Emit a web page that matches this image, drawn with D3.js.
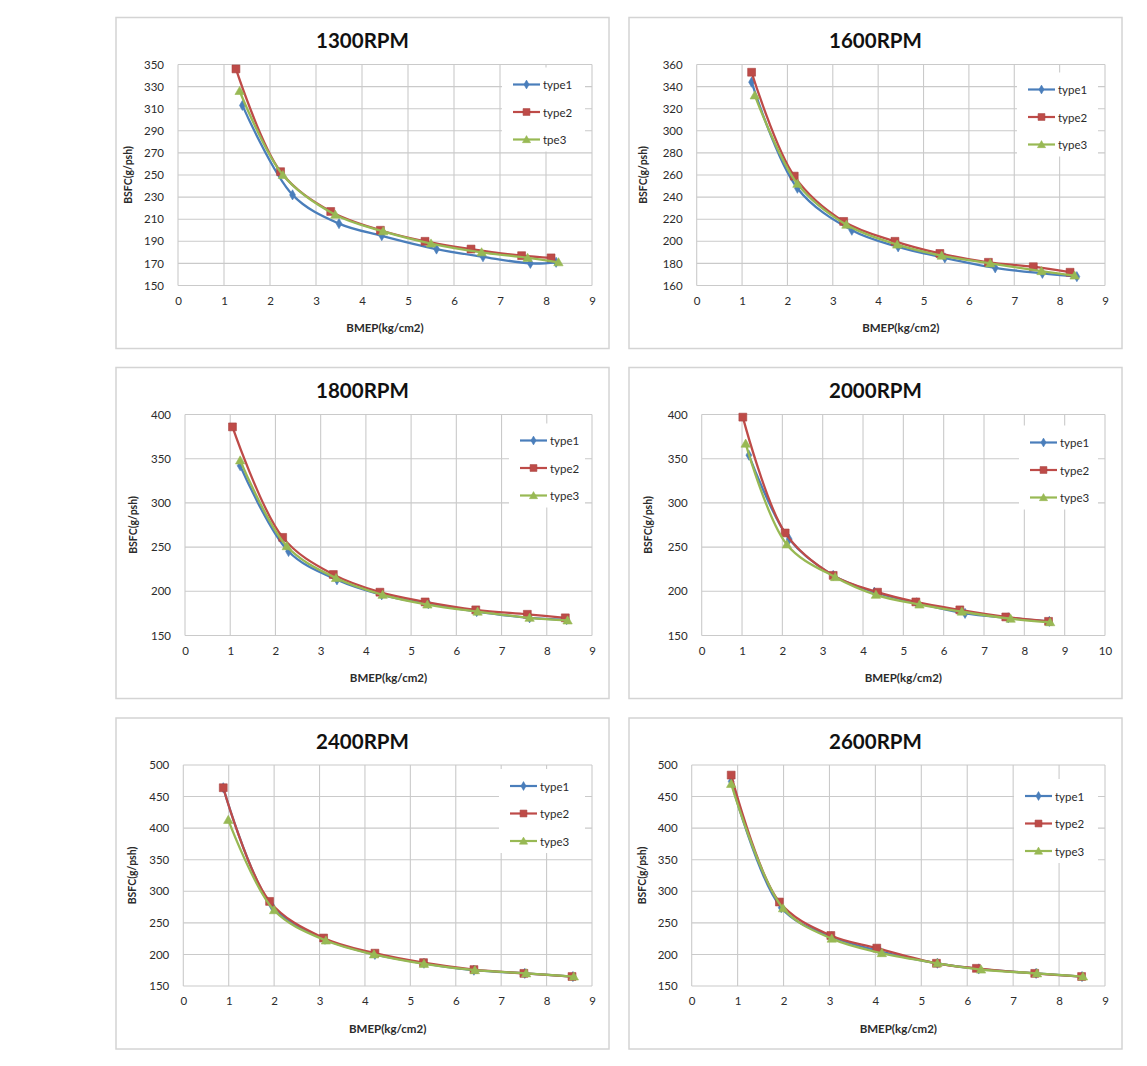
<!DOCTYPE html>
<html>
<head>
<meta charset="utf-8">
<script src="https://cdn.jsdelivr.net/npm/d3@7"></script>
<style>
  html, body { margin: 0; padding: 0; background: #ffffff; }
  svg { display: block; }
</style>
</head>
<body>
<svg id="chart" width="1147" height="1066"></svg>
<script>
// ---------- DATA ----------
const panelTitles = ["1300RPM", "1600RPM", "1800RPM", "2000RPM", "2400RPM", "2600RPM"];
const seriesNames = ["type1", "type2", "type3"];
const legend1300 = ["type1", "type2", "tpe3"];

const xTicks9 = [0, 1, 2, 3, 4, 5, 6, 7, 8, 9];
const xTicks10 = [0, 1, 2, 3, 4, 5, 6, 7, 8, 9, 10];
const yTicks1300 = [150, 170, 190, 210, 230, 250, 270, 290, 310, 330, 350];
const yTicks1600 = [160, 180, 200, 220, 240, 260, 280, 300, 320, 340, 360];
const yTicks1800 = [150, 200, 250, 300, 350, 400];
const yTicks2000 = [150, 200, 250, 300, 350, 400];
const yTicks2400 = [150, 200, 250, 300, 350, 400, 450, 500];
const yTicks2600 = [150, 200, 250, 300, 350, 400, 450, 500];

// [BMEP, BSFC]
const t1_1300 = [[1.40,313],[2.49,232],[3.50,206],[4.43,195],[5.62,183],[6.63,176],[7.66,170],[8.22,171]];
const t2_1300 = [[1.26,346],[2.23,253],[3.32,217],[4.40,200],[5.37,190],[6.37,183],[7.47,177],[8.11,175]];
const t3_1300 = [[1.34,326],[2.28,250],[3.42,214],[4.46,199],[5.50,188],[6.60,180],[7.60,175],[8.27,171]];

const t1_1600 = [[1.21,344],[2.22,248],[3.42,210],[4.44,195],[5.47,185],[6.58,176],[7.62,171],[8.38,168]];
const t2_1600 = [[1.21,353],[2.15,259],[3.24,218],[4.37,200],[5.36,189],[6.43,181],[7.42,177],[8.23,172]];
const t3_1600 = [[1.28,332],[2.22,252],[3.30,215],[4.42,197],[5.40,187],[6.47,180],[7.60,173],[8.33,169]];

const t1_1800 = [[1.22,342],[2.29,245],[3.36,213],[4.35,196],[5.38,186],[6.45,177],[7.62,170],[8.44,168]];
const t2_1800 = [[1.05,386],[2.16,261],[3.28,219],[4.31,199],[5.31,188],[6.43,179],[7.57,174],[8.41,170]];
const t3_1800 = [[1.22,348],[2.25,251],[3.34,215],[4.37,196],[5.36,185],[6.47,177],[7.62,170],[8.46,167]];

const t1_2000 = [[1.17,354],[2.17,259],[3.26,218],[4.28,199],[5.33,187],[6.53,175],[7.60,170],[8.62,166]];
const t2_2000 = [[1.02,397],[2.07,266],[3.26,218],[4.36,199],[5.31,188],[6.40,179],[7.54,171],[8.60,166]];
const t3_2000 = [[1.09,367],[2.11,253],[3.31,216],[4.32,196],[5.40,185],[6.45,177],[7.66,169],[8.64,165]];

const t1_2400 = [[0.88,464],[1.95,277],[3.12,224],[4.22,200],[5.30,186],[6.40,175],[7.52,170],[8.58,165]];
const t2_2400 = [[0.88,464],[1.90,284],[3.09,226],[4.22,202],[5.29,187],[6.40,176],[7.50,170],[8.56,165]];
const t3_2400 = [[0.99,413],[2.00,270],[3.14,222],[4.20,200],[5.30,185],[6.42,175],[7.55,170],[8.60,165]];

const t1_2600 = [[0.86,474],[1.95,274],[3.05,228],[4.10,205],[5.35,186],[6.25,177],[7.50,170],[8.50,165]];
const t2_2600 = [[0.86,484],[1.91,283],[3.03,230],[4.03,210],[5.33,186],[6.20,178],[7.47,170],[8.49,165]];
const t3_2600 = [[0.86,470],[1.99,273],[3.05,225],[4.14,202],[5.35,186],[6.30,176],[7.52,170],[8.52,165]];

const xAxisTitle = "BMEP(kg/cm2)";
const yAxisTitle = "BSFC(g/psh)";

// ---------- build panel table from the arrays ----------
const panels = [
  { title: panelTitles[0], series: [t1_1300, t2_1300, t3_1300], legend: legend1300, xTicks: xTicks9, yTicks: yTicks1300 },
  { title: panelTitles[1], series: [t1_1600, t2_1600, t3_1600], legend: seriesNames, xTicks: xTicks9, yTicks: yTicks1600 },
  { title: panelTitles[2], series: [t1_1800, t2_1800, t3_1800], legend: seriesNames, xTicks: xTicks9, yTicks: yTicks1800 },
  { title: panelTitles[3], series: [t1_2000, t2_2000, t3_2000], legend: seriesNames, xTicks: xTicks10, yTicks: yTicks2000 },
  { title: panelTitles[4], series: [t1_2400, t2_2400, t3_2400], legend: seriesNames, xTicks: xTicks9, yTicks: yTicks2400 },
  { title: panelTitles[5], series: [t1_2600, t2_2600, t3_2600], legend: seriesNames, xTicks: xTicks9, yTicks: yTicks2600 }
];

// ---------- layout ----------
const layout = [
  { x: 116, y: 17.5, pl: 62,   ylx: 12, legX: -79, legY: 20 },
  { x: 629, y: 17.5, pl: 67.7, ylx: 14, legX: -77, legY: 25 },
  { x: 116, y: 367.5, pl: 69,  ylx: 17, legX: -72, legY: 26 },
  { x: 629, y: 367.5, pl: 72.7, ylx: 19, legX: -75, legY: 28 },
  { x: 116, y: 718, pl: 67.3,  ylx: 16, legX: -82, legY: 21 },
  { x: 629, y: 718, pl: 62.7,  ylx: 13, legX: -80, legY: 31 }
];
const PW = 493, PH = 331;
const plotRight = 476, plotTop = 47, plotBottom = 268;
const colors = ["#4a7ebb", "#be4b48", "#98b954"];
const FONT = "Lato, 'Liberation Sans', Arial, sans-serif";

const svg = d3.select("#chart");

function drawMarker(g, type, x, y, color, scale) {
  const s = scale || 1;
  if (type === 0) {
    g.append("path")
      .attr("d", d3.symbol().type(d3.symbolDiamond).size(30 * s)())
      .attr("transform", `translate(${x},${y})`)
      .attr("fill", color).attr("stroke", color).attr("stroke-width", 0.6);
  } else if (type === 1) {
    g.append("path")
      .attr("d", d3.symbol().type(d3.symbolSquare).size(62 * s)())
      .attr("transform", `translate(${x},${y})`)
      .attr("fill", color).attr("stroke", "#a84340").attr("stroke-width", 0.6);
  } else {
    g.append("path")
      .attr("d", d3.symbol().type(d3.symbolTriangle).size(38 * s)())
      .attr("transform", `translate(${x},${y + 0.8})`)
      .attr("fill", color).attr("stroke", color).attr("stroke-width", 0.6);
  }
}

panels.forEach((p, i) => {
  const L = layout[i];
  const g = svg.append("g").attr("transform", `translate(${L.x},${L.y})`);

  // panel frame
  g.append("rect")
    .attr("x", 0).attr("y", 0).attr("width", PW).attr("height", PH)
    .attr("fill", "#ffffff").attr("stroke", "#d4d4d4").attr("stroke-width", 1.5);

  const x = d3.scaleLinear().domain([0, d3.max(p.xTicks)]).range([L.pl, plotRight]);
  const y = d3.scaleLinear().domain([d3.min(p.yTicks), d3.max(p.yTicks)]).range([plotBottom, plotTop]);

  // gridlines
  g.append("g").selectAll("line.h").data(p.yTicks).join("line")
    .attr("x1", x.range()[0]).attr("x2", x.range()[1])
    .attr("y1", d => y(d)).attr("y2", d => y(d))
    .attr("stroke", "#cacaca").attr("stroke-width", 1.1);
  g.append("g").selectAll("line.v").data(p.xTicks).join("line")
    .attr("x1", d => x(d)).attr("x2", d => x(d))
    .attr("y1", plotTop).attr("y2", plotBottom)
    .attr("stroke", "#cacaca").attr("stroke-width", 1.1);

  // axes (labels only; lines provided by grid)
  const yAxis = d3.axisLeft(y).tickValues(p.yTicks).tickSize(0).tickPadding(14);
  const yg = g.append("g").attr("transform", `translate(${L.pl},0)`).call(yAxis);
  yg.select(".domain").remove();
  yg.selectAll("text").attr("font-family", FONT).attr("font-size", 11.5).attr("fill", "#2b2b2b");

  const xAxis = d3.axisBottom(x).tickValues(p.xTicks).tickSize(0).tickPadding(11);
  const xg = g.append("g").attr("transform", `translate(0,${plotBottom})`).call(xAxis);
  xg.select(".domain").remove();
  xg.selectAll("text").attr("font-family", FONT).attr("font-size", 11.5).attr("fill", "#2b2b2b");

  // title
  g.append("text")
    .attr("x", PW / 2).attr("y", 22.5)
    .attr("text-anchor", "middle").attr("dominant-baseline", "central")
    .attr("font-family", FONT).attr("font-weight", "bold").attr("font-size", 20.5)
    .attr("fill", "#111").text(p.title);

  // axis titles
  g.append("text")
    .attr("x", (L.pl + plotRight) / 2).attr("y", plotBottom + 42)
    .attr("text-anchor", "middle").attr("dominant-baseline", "central")
    .attr("font-family", FONT).attr("font-weight", "bold").attr("font-size", 11.5)
    .attr("fill", "#2b2b2b").text(xAxisTitle);
  g.append("text")
    .attr("transform", `translate(${L.ylx},${(plotTop + plotBottom) / 2}) rotate(-90)`)
    .attr("text-anchor", "middle").attr("dominant-baseline", "central")
    .attr("font-family", FONT).attr("font-weight", "bold").attr("font-size", 10.5)
    .attr("fill", "#2b2b2b").text(yAxisTitle);

  // series
  const line = d3.line().x(d => x(d[0])).y(d => y(d[1])).curve(d3.curveCatmullRom.alpha(0.5));
  p.series.forEach((s, k) => {
    const sg = g.append("g");
    sg.append("path").attr("d", line(s))
      .attr("fill", "none").attr("stroke", colors[k]).attr("stroke-width", 2.3)
      .attr("stroke-linejoin", "round");
    s.forEach(d => drawMarker(sg, k, x(d[0]), y(d[1]), colors[k], 1));
  });

  // legend
  const lx = plotRight + L.legX;
  const ly = plotTop + L.legY;
  const spacing = 27.5;
  g.append("rect")
    .attr("x", lx - 11).attr("y", ly - 17)
    .attr("width", plotRight - 7 - (lx - 11)).attr("height", spacing * 2 + 29)
    .attr("fill", "#ffffff");
  p.legend.forEach((name, k) => {
    const yy = ly + k * spacing;
    g.append("line").attr("x1", lx).attr("x2", lx + 27).attr("y1", yy).attr("y2", yy)
      .attr("stroke", colors[k]).attr("stroke-width", 2.2);
    drawMarker(g, k, lx + 13.5, yy, colors[k], 0.75);
    g.append("text").attr("x", lx + 30).attr("y", yy)
      .attr("dominant-baseline", "central")
      .attr("font-family", FONT).attr("font-size", 11.5).attr("fill", "#2b2b2b")
      .text(name);
  });
});
</script>
</body>
</html>
